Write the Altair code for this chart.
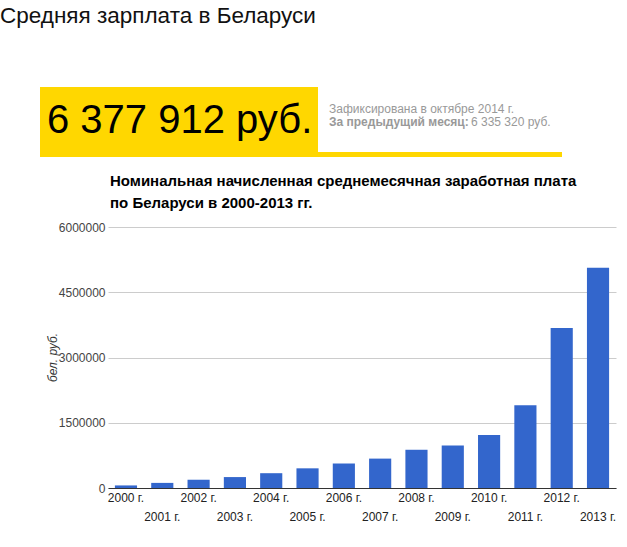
import altair as alt
import pandas as pd

years = [2000, 2001, 2002, 2003, 2004, 2005, 2006, 2007, 2008, 2009, 2010, 2011, 2012, 2013]
salary = [58993, 117440, 190010, 251162, 340300, 452200, 563200, 675600, 878900, 977400, 1217000, 1902800, 3676600, 5061000]
y_ticks = [0, 1500000, 3000000, 4500000, 6000000]

page_title = "Средняя зарплата в Беларуси"
big_value = "6 377 912 руб."
note_line1 = "Зафиксирована в октябре 2014 г."
note_bold = "За предыдущий месяц:"
note_value = "6 335 320 руб."
chart_title = ["Номинальная начисленная среднемесячная заработная плата",
               "по Беларуси в 2000-2013 гг."]
y_title = "бел. руб."

FONT = "Liberation Sans"
PL, PT = 108, 227  # plot origin

df = pd.DataFrame({"year": years, "salary": salary})

bars = alt.Chart(df).mark_bar(color="#3366cc").encode(
    x=alt.X("year:O",
            scale=alt.Scale(paddingInner=0.39, paddingOuter=0.19),
            axis=alt.Axis(title=None, labelAngle=0, ticks=False, grid=False, domainColor="#333333",
                          labelExpr="datum.value % 2 == 0 ? datum.value + ' г.' : ['', datum.value + ' г.']",
                          labelLineHeight=19, labelPadding=4, labelFont=FONT, labelFontSize=12,
                          labelColor="#222222", labelBaseline="top")),
    y=alt.Y("salary:Q",
            scale=alt.Scale(domain=[0, 6000000]),
            axis=alt.Axis(values=y_ticks, format="d", ticks=False, domain=False,
                          gridColor="#cccccc", labelFont=FONT, labelFontSize=12,
                          labelColor="#444444", labelPadding=3,
                          title=y_title, titleFont=FONT, titleFontSize=12, titleFontStyle="italic",
                          titleFontWeight="normal", titleColor="#333333",
                          titleX=-56, titleY=130, titleAngle=270,
                          titleAlign="center", titleBaseline="middle")),
)


def txt(text, x, y, size, color="#000000", weight="normal", align="left"):
    return alt.Chart(pd.DataFrame({"t": [text]})).mark_text(
        font=FONT, fontSize=size, fontWeight=weight, color=color, align=align,
        baseline="alphabetic"
    ).encode(text="t:N", x=alt.value(x - PL), y=alt.value(y - PT))


def rect(x1, x2, y1, y2, color):
    return alt.Chart(pd.DataFrame({"a": [0]})).mark_rect(color=color).encode(
        x=alt.value(x1 - PL), x2=alt.value(x2 - PL), y=alt.value(y1 - PT), y2=alt.value(y2 - PT))


deco = [
    rect(40, 318, 87, 157, "#ffd700"),
    rect(318, 562, 152, 157, "#ffd700"),
    txt(page_title, 0, 23, 22.5, "#111111"),
    txt(big_value, 47, 133, 40),
    txt(note_line1, 329, 113, 12, "#999999"),
    txt(note_bold, 329, 126, 12, "#999999", "bold"),
    txt(note_value, 471, 126, 12, "#999999"),
    txt(chart_title[0], 110, 186, 15, "#000000", "bold"),
    txt(chart_title[1], 110, 208, 15, "#000000", "bold"),
]

chart = alt.layer(bars, *deco).properties(
    width=508, height=261,
    autosize=alt.AutoSizeParams(type="none"),
    padding={"left": PL, "top": PT, "right": 11, "bottom": 59},
).configure(background="white").configure_view(stroke=None)

chart.save("out.html", embed_options={"renderer": "svg", "actions": False})
